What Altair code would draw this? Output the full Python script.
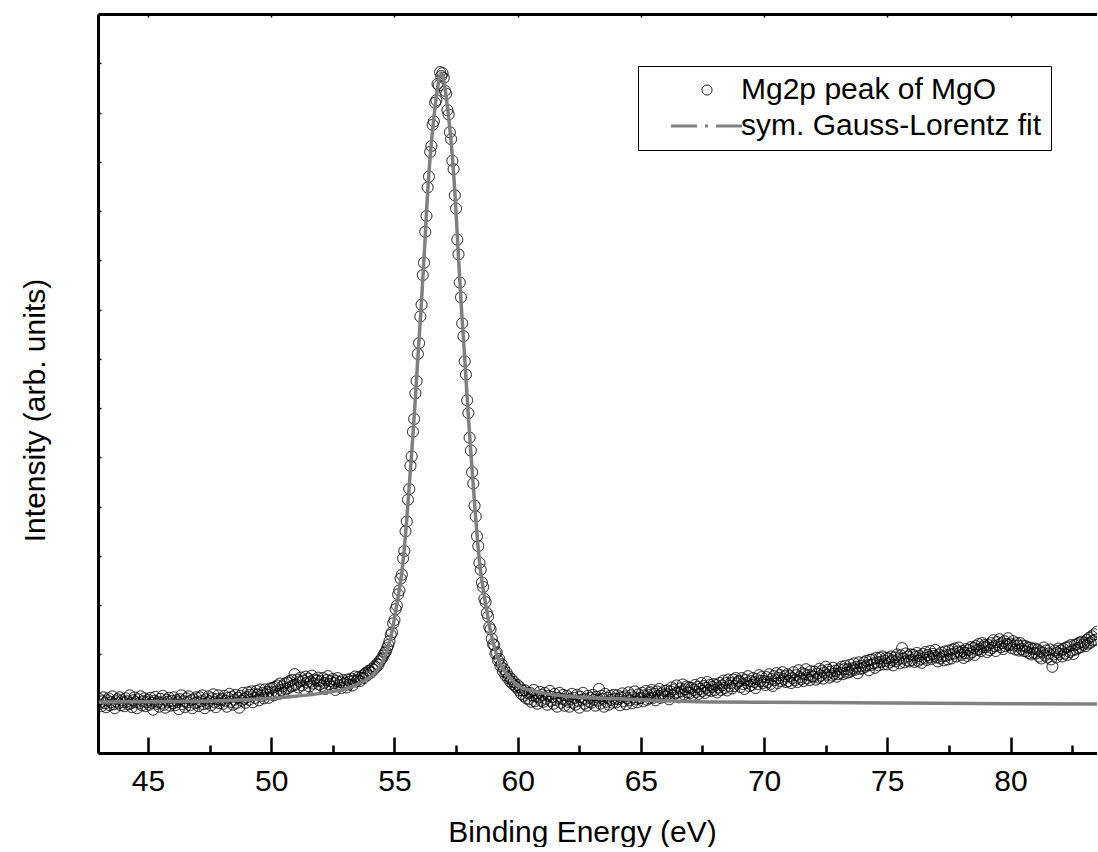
import altair as alt
import pandas as pd

# ---------------- data ----------------
series_names = ["Mg2p peak of MgO", "sym. Gauss-Lorentz fit"]

# measured spectrum: one row per eV, starting at 43.00 eV, step 0.05 eV
row_start_ev = 43.0
row_step_ev = 0.05
intensity_rows = [
    [0.99, 1.09, 0.95, 1.05, 1.13, 1.01, 0.93, 1.07, 1.11, 0.97, 1.03, 1.15, 0.99, 0.91, 1.05, 1.09, 1.01, 1.13, 0.97, 1.07],  # 43
    [1.03, 0.95, 1.11, 1.05, 0.99, 1.17, 1.01, 0.93, 1.07, 1.13, 1.03, 0.91, 1.09, 1.01, 1.15, 0.97, 1.05, 1.11, 0.95, 1.03],  # 44
    [1.08, 0.98, 1.12, 1.02, 0.88, 1.06, 1.14, 1.00, 1.04, 0.94, 1.10, 1.02, 1.16, 0.98, 0.92, 1.08, 1.04, 1.12, 0.96, 1.06],  # 45
    [1.01, 1.13, 0.97, 1.07, 1.03, 0.89, 1.09, 1.17, 0.99, 1.05, 0.93, 1.11, 1.03, 1.15, 0.97, 1.07, 0.91, 1.09, 1.01, 1.13],  # 46
    [1.03, 0.95, 1.13, 1.05, 1.17, 0.99, 0.91, 1.09, 1.01, 1.15, 1.05, 0.97, 1.11, 1.19, 1.03, 0.93, 1.09, 1.17, 1.01, 1.07],  # 47
    [1.10, 1.00, 1.16, 1.06, 0.94, 1.12, 1.20, 1.04, 1.14, 0.98, 1.08, 1.18, 1.02, 1.12, 0.92, 1.16, 1.06, 1.22, 1.10, 1.02],  # 48
    [1.13, 1.23, 1.08, 1.18, 1.25, 1.03, 1.19, 1.12, 1.26, 1.19, 1.07, 1.29, 1.16, 1.22, 1.11, 1.29, 1.19, 1.24, 1.12, 1.31],  # 49
    [1.23, 1.32, 1.17, 1.34, 1.25, 1.37, 1.20, 1.41, 1.28, 1.35, 1.22, 1.41, 1.30, 1.43, 1.32, 1.46, 1.35, 1.48, 1.37, 1.60],  # 50
    [1.39, 1.49, 1.33, 1.45, 1.53, 1.37, 1.47, 1.29, 1.55, 1.43, 1.51, 1.35, 1.45, 1.57, 1.41, 1.49, 1.31, 1.47, 1.53, 1.39],  # 51
    [1.46, 1.36, 1.52, 1.42, 1.30, 1.48, 1.56, 1.40, 1.46, 1.34, 1.50, 1.42, 1.28, 1.46, 1.52, 1.38, 1.44, 1.32, 1.48, 1.40],  # 52
    [1.43, 1.33, 1.49, 1.39, 1.45, 1.51, 1.37, 1.47, 1.55, 1.45, 1.48, 1.54, 1.46, 1.52, 1.57, 1.52, 1.60, 1.63, 1.58, 1.67],  # 53
    [1.66, 1.63, 1.71, 1.69, 1.76, 1.74, 1.81, 1.79, 1.86, 1.90, 1.92, 1.98, 2.03, 2.06, 2.13, 2.19, 2.27, 2.40, 2.45, 2.63],  # 54
    [2.70, 2.92, 2.99, 3.22, 3.30, 3.54, 3.62, 3.95, 4.10, 4.50, 4.70, 5.14, 5.36, 5.83, 6.02, 6.52, 6.78, 7.30, 7.55, 8.10],  # 55
    [8.32, 8.86, 9.10, 9.70, 9.95, 10.58, 10.90, 11.48, 11.70, 12.20, 12.32, 12.75, 12.82, 13.20, 13.25, 13.58, 13.55, 13.82, 13.74, 13.80],  # 56
    [13.70, 13.44, 13.38, 13.05, 12.96, 12.60, 12.46, 12.02, 11.85, 11.32, 11.05, 10.42, 10.12, 9.55, 9.25, 8.72, 8.46, 7.95, 7.68, 7.16],  # 57
    [6.90, 6.40, 6.14, 5.70, 5.47, 5.02, 4.80, 4.40, 4.20, 3.86, 3.72, 3.46, 3.37, 3.13, 3.06, 2.84, 2.77, 2.56, 2.51, 2.32],  # 58
    [2.21, 2.19, 2.02, 2.04, 1.88, 1.91, 1.77, 1.80, 1.66, 1.70, 1.58, 1.63, 1.52, 1.55, 1.45, 1.50, 1.40, 1.44, 1.36, 1.33],  # 59
    [1.38, 1.27, 1.33, 1.20, 1.27, 1.16, 1.27, 1.11, 1.22, 1.09, 1.22, 1.04, 1.17, 1.28, 1.05, 1.15, 1.00, 1.13, 1.24, 1.06],  # 60
    [1.18, 1.04, 1.22, 1.10, 0.98, 1.16, 1.26, 1.06, 1.14, 1.00, 1.20, 1.08, 0.94, 1.12, 1.22, 1.02, 1.10, 1.18, 0.96, 1.08],  # 61
    [1.16, 1.04, 0.94, 1.10, 1.20, 1.02, 1.12, 0.98, 1.18, 1.06, 0.92, 1.14, 1.08, 1.22, 1.00, 1.10, 0.96, 1.16, 1.04, 1.12],  # 62
    [1.02, 1.18, 1.08, 0.96, 1.14, 1.06, 1.30, 1.00, 1.16, 1.10, 0.94, 1.20, 1.04, 1.12, 0.98, 1.16, 1.08, 1.02, 1.18, 1.10],  # 63
    [1.03, 1.17, 1.09, 0.97, 1.13, 1.21, 1.05, 1.15, 0.99, 1.11, 1.23, 1.07, 1.17, 1.01, 1.13, 1.25, 1.09, 1.03, 1.19, 1.11],  # 64
    [1.12, 1.22, 1.05, 1.17, 1.26, 1.08, 1.18, 1.11, 1.23, 1.28, 1.12, 1.20, 1.07, 1.25, 1.16, 1.30, 1.12, 1.21, 1.17, 1.26],  # 65
    [1.15, 1.27, 1.19, 1.09, 1.25, 1.33, 1.17, 1.29, 1.21, 1.37, 1.23, 1.13, 1.31, 1.25, 1.39, 1.19, 1.29, 1.35, 1.23, 1.33],  # 66
    [1.22, 1.32, 1.18, 1.28, 1.38, 1.24, 1.34, 1.20, 1.30, 1.42, 1.26, 1.36, 1.22, 1.32, 1.44, 1.28, 1.38, 1.26, 1.34, 1.40],  # 67
    [1.28, 1.38, 1.23, 1.33, 1.42, 1.28, 1.37, 1.47, 1.32, 1.42, 1.27, 1.49, 1.36, 1.42, 1.31, 1.49, 1.36, 1.52, 1.41, 1.45],  # 68
    [1.46, 1.34, 1.52, 1.40, 1.30, 1.48, 1.42, 1.56, 1.36, 1.46, 1.38, 1.52, 1.44, 1.32, 1.50, 1.40, 1.58, 1.46, 1.54, 1.42],  # 69
    [1.46, 1.38, 1.54, 1.44, 1.60, 1.40, 1.50, 1.36, 1.56, 1.48, 1.62, 1.42, 1.52, 1.58, 1.46, 1.64, 1.50, 1.56, 1.44, 1.60],  # 70
    [1.46, 1.56, 1.42, 1.52, 1.64, 1.48, 1.58, 1.44, 1.68, 1.54, 1.50, 1.62, 1.46, 1.60, 1.70, 1.52, 1.58, 1.48, 1.66, 1.56],  # 71
    [1.55, 1.65, 1.49, 1.61, 1.53, 1.71, 1.57, 1.67, 1.51, 1.63, 1.75, 1.59, 1.69, 1.53, 1.65, 1.57, 1.73, 1.61, 1.67, 1.55],  # 72
    [1.60, 1.70, 1.63, 1.75, 1.60, 1.70, 1.77, 1.63, 1.70, 1.64, 1.79, 1.67, 1.72, 1.82, 1.69, 1.75, 1.62, 1.84, 1.71, 1.77],  # 73
    [1.72, 1.84, 1.75, 1.87, 1.78, 1.68, 1.89, 1.79, 1.90, 1.82, 1.73, 1.93, 1.84, 1.78, 1.93, 1.85, 1.96, 1.80, 1.87, 1.93],  # 74
    [1.80, 1.92, 1.84, 1.96, 1.88, 1.78, 1.94, 1.86, 2.00, 1.90, 1.82, 1.98, 2.13, 1.92, 1.84, 2.02, 1.88, 1.96, 1.86, 2.00],  # 75
    [1.89, 1.99, 1.85, 1.95, 2.03, 1.87, 1.97, 1.91, 1.83, 2.01, 1.93, 2.05, 1.89, 1.99, 1.95, 2.07, 1.91, 2.01, 1.97, 2.09],  # 76
    [1.94, 1.86, 2.00, 1.92, 2.04, 1.96, 1.88, 2.06, 1.98, 1.90, 2.08, 2.00, 1.92, 2.10, 2.02, 2.12, 1.96, 2.06, 2.14, 2.04],  # 77
    [1.99, 2.07, 1.93, 2.03, 2.11, 1.97, 2.09, 2.01, 2.15, 2.05, 2.13, 1.99, 2.17, 2.09, 2.21, 2.11, 2.07, 2.23, 2.15, 2.19],  # 78
    [2.15, 2.05, 2.19, 2.09, 2.23, 2.13, 2.29, 2.17, 2.07, 2.25, 2.19, 2.31, 2.15, 2.23, 2.11, 2.27, 2.17, 2.21, 2.33, 2.19],  # 79
    [2.22, 2.13, 2.27, 2.18, 2.10, 2.23, 2.18, 2.08, 2.23, 2.11, 2.18, 2.07, 2.17, 2.06, 2.14, 2.03, 2.14, 2.00, 2.11, 2.03],  # 80
    [2.12, 2.02, 2.10, 1.96, 2.06, 1.92, 2.04, 2.14, 1.98, 2.08, 1.94, 2.02, 2.10, 1.90, 1.75, 2.00, 2.08, 1.94, 2.04, 2.12],  # 81
    [2.01, 2.08, 1.96, 2.11, 2.02, 2.14, 1.99, 2.16, 2.05, 2.19, 2.08, 2.01, 2.19, 2.10, 2.21, 2.13, 2.24, 2.15, 2.26, 2.20],  # 82
    [2.24, 2.17, 2.30, 2.22, 2.34, 2.24, 2.37, 2.28, 2.41, 2.30, 2.46],  # 83
]

# fitted curve
fit_energy = [
    43.0, 44.0, 45.0, 46.0, 47.0, 48.0, 49.0, 50.0, 50.5, 51.0, 51.5, 52.0, 52.5, 53.0, 53.3, 53.6, 53.8,
    54.0, 54.2, 54.3, 54.4, 54.5, 54.6, 54.65, 54.7, 54.75, 54.8, 54.85, 54.9, 54.95,
    55.0, 55.05, 55.1, 55.15, 55.2, 55.25, 55.3, 55.35, 55.4, 55.45, 55.5, 55.55, 55.6, 55.65, 55.7, 55.75,
    55.8, 55.85, 55.9, 55.95, 56.0, 56.05, 56.1, 56.15, 56.2, 56.25, 56.3, 56.35, 56.4, 56.45, 56.5, 56.55,
    56.6, 56.65, 56.7, 56.75, 56.8, 56.85, 56.9, 56.95, 57.0, 57.05, 57.1, 57.15, 57.2, 57.25, 57.3, 57.35,
    57.4, 57.45, 57.5, 57.55, 57.6, 57.65, 57.7, 57.75, 57.8, 57.85, 57.9, 57.95, 58.0, 58.05, 58.1, 58.15,
    58.2, 58.25, 58.3, 58.35, 58.4, 58.45, 58.5, 58.55, 58.6, 58.65, 58.7, 58.75, 58.8, 58.85, 58.9, 58.95,
    59.0, 59.05, 59.1, 59.15, 59.2, 59.25, 59.3, 59.35, 59.4, 59.5, 59.6, 59.7, 59.8, 59.9, 60.0, 60.2,
    60.5, 61.0, 61.5, 62.0, 63.0, 64.0, 65.0, 66.0, 67.0, 68.0, 70.0, 75.0, 80.0, 83.55,
]
fit_intensity = [
    1.035, 1.04, 1.04, 1.045, 1.05, 1.06, 1.08, 1.11, 1.13, 1.15, 1.18, 1.21, 1.25, 1.30, 1.35, 1.42, 1.47,
    1.54, 1.62, 1.68, 1.75, 1.83, 1.93, 2.00, 2.07, 2.16, 2.25, 2.36, 2.47, 2.60,
    2.73, 2.88, 3.02, 3.17, 3.33, 3.50, 3.67, 3.90, 4.15, 4.44, 4.75, 5.08, 5.42, 5.76, 6.10, 6.46,
    6.84, 7.22, 7.62, 8.02, 8.40, 8.78, 9.18, 9.62, 10.05, 10.50, 10.98, 11.40, 11.78, 12.10, 12.40, 12.66,
    12.90, 13.12, 13.32, 13.50, 13.65, 13.76, 13.80, 13.76, 13.65, 13.50, 13.32, 13.12, 12.90, 12.66, 12.40, 12.10,
    11.78, 11.40, 10.98, 10.50, 10.05, 9.62, 9.18, 8.78, 8.40, 8.02, 7.62, 7.22, 6.84, 6.46, 6.10, 5.76,
    5.42, 5.08, 4.75, 4.44, 4.15, 3.90, 3.67, 3.50, 3.33, 3.17, 3.02, 2.88, 2.73, 2.60, 2.47, 2.36,
    2.25, 2.16, 2.07, 2.00, 1.93, 1.87, 1.81, 1.76, 1.71, 1.64, 1.57, 1.52, 1.47, 1.42, 1.38, 1.32,
    1.28, 1.22, 1.18, 1.15, 1.12, 1.10, 1.08, 1.06, 1.045, 1.035, 1.03, 1.015, 1.00, 0.995,
]

x_major_ticks = [45, 50, 55, 60, 65, 70, 75, 80]
x_minor_ticks = [47.5, 52.5, 57.5, 62.5, 67.5, 72.5, 77.5, 82.5]
y_ticks = list(range(1, 15))

# ---------------- tables ----------------
pt_energy, pt_intensity = [], []
for k, row in enumerate(intensity_rows):
    for j, v in enumerate(row):
        pt_energy.append(round(row_start_ev + k + row_step_ev * j, 2))
        pt_intensity.append(v)
points_df = pd.DataFrame({"energy": pt_energy, "intensity": pt_intensity, "series": series_names[0]})
fit_df = pd.DataFrame({"energy": fit_energy, "intensity": fit_intensity})

# ---------------- styling ----------------
W, H = 999, 739
FONT = "Liberation Sans"
FS = 30
GREY = "#808080"

x_scale = alt.Scale(domain=[42.97, 83.51], nice=False, zero=False)
y_scale = alt.Scale(domain=[0, 15], nice=False, zero=False)

ax_bottom = alt.Axis(orient="bottom", values=x_major_ticks, ticks=False, domain=True, domainWidth=3,
                     domainColor="black", labels=True, labelFontSize=FS, labelFont=FONT, labelColor="black",
                     labelPadding=13, title="Binding Energy (eV)", titleFontSize=FS, titleFont=FONT,
                     titleFontWeight="normal", titleColor="black", titlePadding=21, titleX=484, grid=False)
ax_major_in = alt.Axis(orient="top", offset=-H, values=x_major_ticks, ticks=True, tickSize=16, tickWidth=2.5,
                       tickColor="black", domain=False, labels=False, title=None, grid=False)
ax_minor_in = alt.Axis(orient="top", offset=-H, values=x_minor_ticks, ticks=True, tickSize=8, tickWidth=2.5,
                       tickColor="black", domain=False, labels=False, title=None, grid=False)
ax_top_spine = alt.Axis(orient="bottom", offset=-H, values=x_major_ticks, ticks=True, tickSize=3, tickWidth=1.5,
                        tickColor="black", domain=True, domainWidth=3, domainColor="black", labels=False,
                        title=None, grid=False)
ax_left = alt.Axis(orient="left", ticks=False, labels=False, domain=True, domainWidth=3, domainColor="black",
                   title="Intensity (arb. units)", titleFontSize=FS, titleFont=FONT, titleFontWeight="normal",
                   titleColor="black", titlePadding=48, titleY=396, grid=False)
ax_left_in = alt.Axis(orient="right", offset=-W, values=y_ticks, ticks=True, tickSize=3, tickWidth=1.5,
                      tickColor="black", domain=False, labels=False, title=None, grid=False)

legend = alt.Legend(title=None, orient="none", legendX=540, legendY=52, strokeColor="black",
                    fillColor="white", padding=9, labelFontSize=FS, labelFont=FONT, labelColor="black",
                    labelLimit=500, symbolSize=100, symbolOffset=45, labelOffset=19, rowPadding=6)

points = alt.Chart(points_df).mark_point(filled=False, size=120, opacity=1, clip=True).encode(
    x=alt.X("energy:Q", scale=x_scale, axis=ax_bottom),
    y=alt.Y("intensity:Q", scale=y_scale, axis=ax_left),
    color=alt.Color("series:N", scale=alt.Scale(domain=series_names, range=["black", GREY]), legend=legend),
    shape=alt.Shape("series:N", scale=alt.Scale(domain=series_names, range=["circle", "M-7.2,0H7.2"]), legend=legend),
    strokeDash=alt.StrokeDash("series:N", scale=alt.Scale(domain=series_names, range=[[1, 0], [26, 8, 3, 8]]), legend=legend),
    strokeWidth=alt.StrokeWidth("series:N", scale=alt.Scale(domain=series_names, range=[1, 3]), legend=legend),
)

fit_line = alt.Chart(fit_df).mark_line(color=GREY, strokeWidth=3.5, clip=True, interpolate="monotone").encode(
    x=alt.X("energy:Q", scale=x_scale, axis=ax_major_in),
    y=alt.Y("intensity:Q", scale=y_scale, axis=ax_left_in),
)
minor_holder = alt.Chart(fit_df).mark_line(opacity=0, clip=True).encode(
    x=alt.X("energy:Q", scale=x_scale, axis=ax_minor_in),
    y=alt.Y("intensity:Q", scale=y_scale, axis=None),
)
top_holder = alt.Chart(fit_df).mark_line(opacity=0, clip=True).encode(
    x=alt.X("energy:Q", scale=x_scale, axis=ax_top_spine),
    y=alt.Y("intensity:Q", scale=y_scale, axis=None),
)

chart = alt.layer(points, fit_line, minor_holder, top_holder).resolve_axis(
    x="independent", y="independent"
).properties(
    width=W, height=H, padding={"left": 20, "top": 13, "right": 0, "bottom": 0}, background="white"
).configure_view(stroke=None)

chart.save("out.html", embed_options={"renderer": "svg", "actions": False})
